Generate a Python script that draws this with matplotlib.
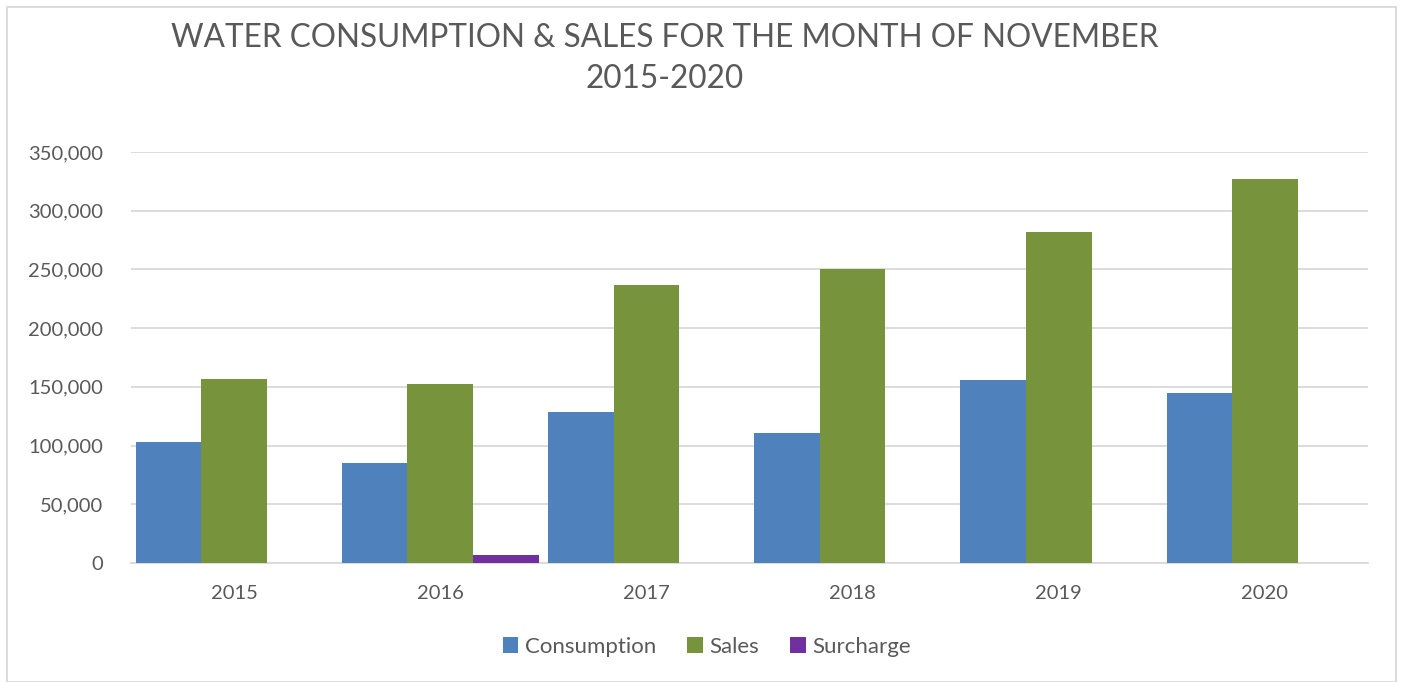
import matplotlib.pyplot as plt
import numpy as np
from matplotlib.patches import Rectangle
from matplotlib.ticker import FuncFormatter

years = ["2015", "2016", "2017", "2018", "2019", "2020"]
consumption = [103000, 85200, 128600, 110700, 155800, 144800]
sales = [156700, 152400, 236700, 250400, 281900, 327000]
surcharge = [0, 6800, 0, 0, 0, 0]

series = [
    ("Consumption", consumption, "#4f81bd"),
    ("Sales", sales, "#77933c"),
    ("Surcharge", surcharge, "#7030a0"),
]

plt.rcParams["font.family"] = ["Lato", "DejaVu Sans"]
text_color = "#595959"

fig = plt.figure(figsize=(14.03, 6.82), dpi=100)
ax = fig.add_axes([131 / 1403, 1 - 563 / 682, 1237 / 1403, 411 / 682])

x = np.arange(len(years))
width = 0.318
for i, (name, vals, color) in enumerate(series):
    ax.bar(x + (i - 1) * width, vals, width, color=color, label=name,
           edgecolor="none", zorder=3)

ax.set_xlim(-0.5, len(years) - 0.5)
ax.set_ylim(0, 350000)
ax.set_yticks(np.arange(0, 350001, 50000))
ax.yaxis.set_major_formatter(FuncFormatter(lambda v, p: f"{int(v):,}"))
ax.set_xticks(x)
ax.set_xticklabels(years)
ax.grid(axis="y", color="#d9d9d9", linewidth=1.3, zorder=0)
for s in ["top", "right", "left"]:
    ax.spines[s].set_visible(False)
ax.spines["bottom"].set_color("#d9d9d9")
ax.spines["bottom"].set_linewidth(1.3)
ax.tick_params(axis="both", length=0, labelsize=14.5, labelcolor=text_color)
ax.tick_params(axis="y", pad=20)
ax.tick_params(axis="x", pad=16)

fig.text(665 / 1403, 1 - 38 / 682, "WATER CONSUMPTION & SALES FOR THE MONTH OF NOVEMBER",
         ha="center", va="center", fontsize=22.7, color=text_color)
fig.text(665 / 1403, 1 - 79 / 682, "2015-2020",
         ha="center", va="center", fontsize=22.7, color=text_color)

fig.legend(loc="center", bbox_to_anchor=(707 / 1403, 1 - 647 / 682), ncol=3,
           frameon=False, fontsize=16, labelcolor=text_color,
           handlelength=0.7, handleheight=0.7, handletextpad=0.3,
           columnspacing=1.4)

fig.patches.append(Rectangle((7 / 1403, 0), 1 - 14 / 1403, 1 - 7 / 682,
                             transform=fig.transFigure, fill=False,
                             edgecolor="#d9d9d9", linewidth=1.3))

fig.savefig("out.png", dpi=100)
